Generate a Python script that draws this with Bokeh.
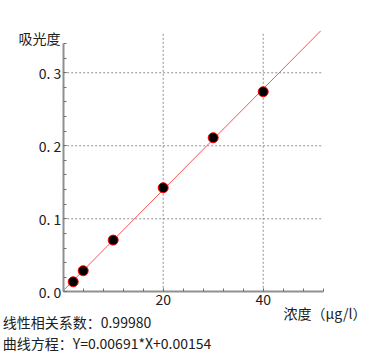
from bokeh.plotting import figure
from bokeh.models import FixedTicker, Range1d, Label, LinearAxis
from bokeh.embed import file_html
from bokeh.resources import INLINE

# data
concentration = [2, 4, 10, 20, 30, 40]
absorbance = [0.0137, 0.0288, 0.0708, 0.1425, 0.211, 0.274]
slope = 0.00691
intercept = 0.00154
fit_x = [0, 51.5]
x_ticks = [20, 40]
x_tick_labels = ["20", "40"]
y_ticks = [0, 0.1, 0.2, 0.3]
y_tick_labels = ["0. 0", "0. 1", "0. 2", "0. 3"]
y_title = "吸光度"
x_title = "浓度（μg/l）"
text_r = "线性相关系数：0.99980"
text_eq = "曲线方程：Y=0.00691*X+0.00154"

FONT = "Noto Sans CJK SC"
X_END = 52
Y_END = 0.34
GRID_Y_END = 0.355

# the frame covers the whole canvas; axes are pinned at the data origin
p = figure(width=379, height=353, output_backend="svg", toolbar_location=None,
           x_range=Range1d(-12.54, 63.26), y_range=Range1d(-0.0845, 0.399),
           x_axis_type=None, y_axis_type=None, min_border=0,
           min_border_left=0, min_border_right=0, min_border_top=0, min_border_bottom=0)
p.outline_line_color = None
p.background_fill_color = "white"
p.xgrid.visible = False
p.ygrid.visible = False

# dashed grid lines at the major ticks
p.segment(x0=x_ticks, y0=[0] * len(x_ticks), x1=x_ticks, y1=[GRID_Y_END] * len(x_ticks),
          line_color="#909090", line_dash="2 2", line_width=1)
gy = [t for t in y_ticks if t > 0]
p.segment(x0=[0] * len(gy), y0=gy, x1=[X_END] * len(gy), y1=gy,
          line_color="#909090", line_dash="2 2", line_width=1)

xaxis = LinearAxis(ticker=FixedTicker(ticks=x_ticks, minor_ticks=list(range(0, X_END + 1, 4))),
                   bounds=(0, X_END), fixed_location=0)
xaxis.major_label_overrides = {t: l for t, l in zip(x_ticks, x_tick_labels)}
yaxis = LinearAxis(ticker=FixedTicker(ticks=y_ticks, minor_ticks=[i * 0.02 for i in range(0, 18)]),
                   bounds=(0, Y_END), fixed_location=0)
yaxis.major_label_overrides = {t: l for t, l in zip(y_ticks, y_tick_labels)}
for ax in (xaxis, yaxis):
    ax.axis_line_color = "#909090"
    ax.axis_line_width = 2
    ax.major_tick_line_color = "#707070"
    ax.minor_tick_line_color = "#707070"
    ax.major_tick_in = 3
    ax.major_tick_out = 0
    ax.minor_tick_in = 3
    ax.minor_tick_out = 0
    ax.major_label_text_font = FONT
    ax.major_label_text_font_size = "14px"
    ax.major_label_text_color = "#202020"
    ax.major_label_standoff = 2
p.add_layout(xaxis, "below")
p.add_layout(yaxis, "left")

fit_y = [slope * x + intercept for x in fit_x]
p.line(fit_x, fit_y, line_color="#ff5050", line_width=1)
p.scatter(concentration, absorbance, size=10, fill_color="black", line_color="red", line_width=1)

def lab(x, y, t, align="left"):
    p.add_layout(Label(x=x, y=y, text=t, text_font=FONT, text_font_size="14px",
                       text_color="#202020", text_align=align, text_baseline="middle"))

lab(-0.54, 0.347, y_title, "right")
lab(44.06, -0.0297, x_title)
lab(-12.1, -0.0407, text_r)
lab(-12.1, -0.0695, text_eq)

open("out.html", "w").write(file_html(p, INLINE))
